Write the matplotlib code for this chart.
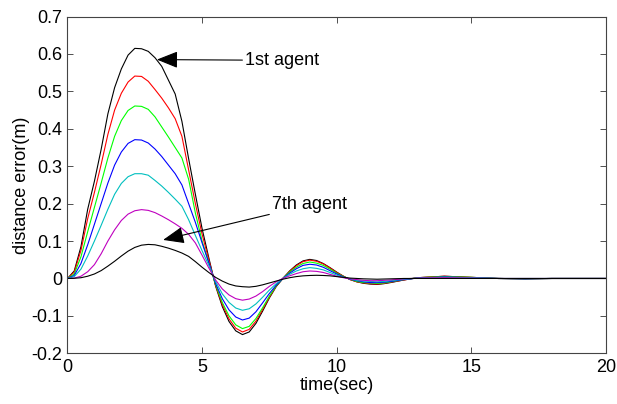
import numpy as np
import matplotlib
matplotlib.use("Agg")
import matplotlib.pyplot as plt

# данные
t = [0, 0.25, 0.5, 0.75, 1.0, 1.25, 1.5, 1.75, 2.0, 2.25, 2.5, 2.75, 3.0, 3.25, 3.5, 3.75,
     4.0, 4.25, 4.5, 4.75, 5.0, 5.25, 5.5, 5.75, 6.0, 6.25, 6.5, 6.75, 7.0, 7.25, 7.5, 7.75,
     8.0, 8.25, 8.5, 8.75, 9.0, 9.25, 9.5, 9.75, 10.0, 10.25, 10.5, 10.75, 11.0, 11.25, 11.5, 11.75,
     12.0, 12.5, 13, 14, 15, 16, 17, 18, 20]

agent1 = [0, 0.02, 0.085, 0.185, 0.26, 0.345, 0.44, 0.51, 0.56, 0.597, 0.615, 0.614, 0.607, 0.59, 0.567, 0.53,
          0.493, 0.42, 0.32, 0.225, 0.133, 0.055, -0.02, -0.075, -0.115, -0.14, -0.150, -0.143, -0.12, -0.087, -0.052, -0.022,
          0.0, 0.02, 0.036, 0.047, 0.051, 0.048, 0.04, 0.029, 0.017, 0.006, -0.003, -0.009, -0.013, -0.015, -0.016, -0.014,
          -0.011, -0.004, 0.002, 0.006, 0.003, 0.0, -0.001, 0.0, 0.0]
agent2 = [0, 0.017, 0.075, 0.16, 0.23, 0.305, 0.385, 0.45, 0.495, 0.525, 0.541, 0.540, 0.527, 0.505, 0.482, 0.456,
          0.427, 0.38, 0.29, 0.2, 0.118, 0.05, -0.018, -0.07, -0.108, -0.133, -0.143, -0.136, -0.114, -0.083, -0.05, -0.021,
          0.0, 0.019, 0.034, 0.045, 0.049, 0.046, 0.039, 0.028, 0.016, 0.006, -0.003, -0.009, -0.012, -0.014, -0.015, -0.013,
          -0.01, -0.004, 0.002, 0.006, 0.003, 0.0, -0.001, 0.0, 0.0]
agent3 = [0, 0.012, 0.058, 0.125, 0.19, 0.255, 0.322, 0.38, 0.422, 0.449, 0.461, 0.460, 0.452, 0.432, 0.405, 0.378,
          0.35, 0.322, 0.265, 0.175, 0.1, 0.042, -0.016, -0.064, -0.1, -0.124, -0.134, -0.128, -0.107, -0.078, -0.047, -0.02,
          0.0, 0.017, 0.03, 0.04, 0.044, 0.041, 0.035, 0.025, 0.014, 0.005, -0.002, -0.008, -0.011, -0.012, -0.013, -0.012,
          -0.009, -0.003, 0.002, 0.005, 0.003, 0.0, -0.001, 0.0, 0.0]
agent4 = [0, 0.008, 0.04, 0.09, 0.145, 0.2, 0.255, 0.303, 0.338, 0.361, 0.371, 0.370, 0.362, 0.346, 0.326, 0.303,
          0.28, 0.25, 0.2, 0.15, 0.095, 0.042, -0.013, -0.054, -0.084, -0.103, -0.111, -0.106, -0.089, -0.065, -0.04, -0.018,
          0.0, 0.014, 0.026, 0.035, 0.038, 0.036, 0.030, 0.021, 0.012, 0.004, -0.002, -0.006, -0.009, -0.011, -0.011, -0.01,
          -0.008, -0.003, 0.001, 0.004, 0.002, 0.0, -0.001, 0.0, 0.0]
agent5 = [0, 0.005, 0.025, 0.06, 0.1, 0.142, 0.185, 0.225, 0.254, 0.272, 0.280, 0.280, 0.276, 0.262, 0.247, 0.23,
          0.212, 0.193, 0.157, 0.115, 0.074, 0.035, -0.008, -0.041, -0.064, -0.079, -0.085, -0.081, -0.068, -0.05, -0.031, -0.014,
          0.0, 0.011, 0.02, 0.026, 0.029, 0.027, 0.023, 0.016, 0.009, 0.003, -0.001, -0.005, -0.007, -0.008, -0.009, -0.008,
          -0.006, -0.002, 0.001, 0.003, 0.002, 0.0, 0.0, 0.0, 0.0]
agent6 = [0, 0.001, 0.006, 0.018, 0.037, 0.066, 0.1, 0.13, 0.155, 0.172, 0.181, 0.184, 0.182, 0.176, 0.167, 0.157,
          0.146, 0.134, 0.118, 0.095, 0.062, 0.028, -0.004, -0.028, -0.044, -0.054, -0.058, -0.055, -0.047, -0.035, -0.021, -0.009,
          0.0, 0.007, 0.013, 0.018, 0.020, 0.019, 0.016, 0.011, 0.006, 0.002, -0.001, -0.003, -0.005, -0.006, -0.006, -0.005,
          -0.004, -0.001, 0.001, 0.002, 0.001, 0.0, 0.0, 0.0, 0.0]
agent7 = [0, 0.0005, 0.002, 0.006, 0.012, 0.021, 0.033, 0.046, 0.06, 0.073, 0.083, 0.089, 0.091, 0.09, 0.086, 0.081,
          0.075, 0.068, 0.059, 0.045, 0.03, 0.016, 0.003, -0.007, -0.015, -0.02, -0.022, -0.023, -0.021, -0.017, -0.012, -0.007,
          -0.002, 0.002, 0.005, 0.007, 0.008, 0.0085, 0.008, 0.007, 0.005, 0.003, 0.001, 0.0, -0.001, -0.0015, -0.002, -0.0015,
          -0.001, 0.0, 0.0, 0.0, 0.0, 0.0, 0.0, 0.0, 0.0]

colors = ['k', 'r', '#00ff00', 'b', 'c', 'm', 'k']
yticks = [-0.2, -0.1, 0, 0.1, 0.2, 0.3, 0.4, 0.5, 0.6, 0.7]
ytick_labels = ['-0.2', '-0.1', '0', '0.1', '0.2', '0.3', '0.4', '0.5', '0.6', '0.7']
xticks = [0, 5, 10, 15, 20]

plt.rcParams['font.family'] = ['Liberation Sans', 'DejaVu Sans']
plt.rcParams['font.size'] = 13

fig = plt.figure(figsize=(6.17, 4.04), dpi=100)
ax = fig.add_axes([0.1094, 0.1255, 0.8726, 0.8335])

for y, c in zip([agent1, agent2, agent3, agent4, agent5, agent6, agent7], colors):
    ax.plot(t, y, color=c, linewidth=0.8)

ax.set_xlim(0, 20)
ax.set_ylim(-0.2, 0.7)
ax.set_xticks(xticks)
ax.set_xticklabels([str(v) for v in xticks])
ax.set_yticks(yticks)
ax.set_yticklabels(ytick_labels)
ax.tick_params(direction='in', top=True, right=True, length=4, width=0.6, pad=4, colors='#333333', labelcolor='k')
for s in ax.spines.values():
    s.set_linewidth(0.8)
    s.set_color('#444444')

ax.set_xlabel('time(sec)', labelpad=1)
ax.set_ylabel('distance error(m)', labelpad=1)

# стрелки с подписями
arrow = dict(arrowstyle='-|>,head_length=1.0,head_width=0.4', color='k', lw=0.8, shrinkA=0, shrinkB=0)
ax.annotate('1st agent', xy=(3.32, 0.585), xytext=(6.6, 0.583), va='center', arrowprops=arrow)
ax.annotate('7th agent', xy=(3.55, 0.103), xytext=(7.6, 0.197), va='center', arrowprops=arrow)

fig.savefig('out.png', dpi=100)
